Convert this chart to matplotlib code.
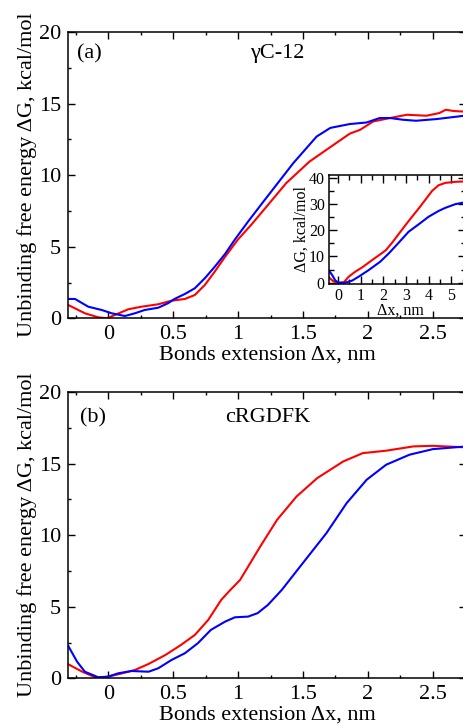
import matplotlib
matplotlib.use("Agg")
import matplotlib.pyplot as plt
from matplotlib.ticker import MultipleLocator

plt.rcParams['font.family'] = ['Liberation Serif', 'DejaVu Serif']

# ---- panel (a) gammaC-12 ----
a_red_x = [-0.308, -0.18, -0.077, -0.01, 0.05, 0.154, 0.256, 0.385, 0.487, 0.59, 0.667, 0.744, 0.82,
           0.9, 1.0, 1.1, 1.23, 1.37, 1.55, 1.68, 1.86, 1.94, 2.04, 2.17, 2.3, 2.45, 2.55, 2.6, 2.66, 2.76]
a_red_y = [0.93, 0.35, 0.07, 0.0, 0.23, 0.63, 0.81, 0.98, 1.23, 1.35, 1.63, 2.33, 3.26,
           4.3, 5.52, 6.52, 7.92, 9.44, 10.95, 11.77, 12.9, 13.17, 13.75, 13.99, 14.22, 14.15, 14.34, 14.57, 14.48, 14.43]
a_blue_x = [-0.308, -0.256, -0.154, -0.05, 0.026, 0.128, 0.205, 0.28, 0.385, 0.46, 0.51, 0.59, 0.667,
            0.744, 0.82, 0.9, 0.975, 1.077, 1.205, 1.425, 1.605, 1.71, 1.86, 1.99, 2.09, 2.17, 2.27, 2.37,
            2.53, 2.76]
a_blue_y = [1.35, 1.35, 0.81, 0.58, 0.35, 0.16, 0.35, 0.58, 0.74, 1.05, 1.35, 1.7, 2.1,
            2.8, 3.6, 4.5, 5.5, 6.76, 8.27, 10.84, 12.7, 13.3, 13.57, 13.68, 13.99, 13.99, 13.87, 13.8,
            13.92, 14.17]

# ---- inset ----
in_red_x = [-0.4, -0.19, 0.03, 0.25, 0.47, 0.76, 1.06, 1.5, 1.86, 2.11, 2.38, 2.67, 2.97, 3.26, 3.55,
            3.85, 4.14, 4.43, 4.73, 5.17, 5.46, 5.7]
in_red_y = [2.0, 0.4, 0.0, 0.1, 2.3, 4.2, 5.8, 8.6, 10.8, 12.4, 15.2, 18.5, 21.9, 25.1, 28.2,
            31.6, 34.9, 37.1, 38.0, 38.4, 38.5, 38.5]
in_blue_x = [-0.4, -0.26, -0.12, 0.03, 0.32, 0.62, 0.91, 1.35, 1.86, 2.23, 2.67, 3.11, 3.55, 3.99,
             4.43, 4.73, 5.17, 5.46, 5.7]
in_blue_y = [4.6, 2.9, 0.8, 0.0, 0.0, 0.8, 2.3, 4.8, 8.0, 11.1, 15.2, 19.4, 22.2, 25.1,
             27.3, 28.5, 29.9, 30.4, 30.6]

# ---- panel (b) cRGDFK ----
b_red_x = [-0.308, -0.2, -0.1, -0.026, 0.077, 0.205, 0.31, 0.44, 0.56, 0.667, 0.77, 0.87, 0.94, 1.015,
           1.17, 1.3, 1.45, 1.61, 1.81, 1.96, 2.14, 2.35, 2.5, 2.76]
b_red_y = [0.98, 0.46, 0.07, 0.07, 0.28, 0.58, 1.0, 1.63, 2.33, 3.03, 4.08, 5.48, 6.17, 6.87,
           9.2, 11.07, 12.7, 13.99, 15.15, 15.73, 15.9, 16.2, 16.24, 16.13]
b_blue_x = [-0.308, -0.24, -0.18, -0.077, 0.0, 0.077, 0.18, 0.31, 0.385, 0.487, 0.59, 0.69, 0.79, 0.9,
            0.975, 1.077, 1.15, 1.23, 1.336, 1.477, 1.68, 1.836, 1.99, 2.14, 2.32, 2.5, 2.76]
b_blue_y = [2.26, 1.16, 0.46, 0.07, 0.12, 0.35, 0.51, 0.46, 0.7, 1.28, 1.75, 2.45, 3.38, 3.96,
            4.26, 4.31, 4.55, 5.13, 6.17, 7.8, 10.14, 12.24, 13.87, 14.92, 15.62, 16.01, 16.2]

xticks_main = [0, 0.5, 1, 1.5, 2, 2.5]
xticklabels_main = ['0', '0.5', '1', '1.5', '2', '2.5']
yticks_main = [0, 5, 10, 15, 20]
xticks_inset = [0, 1, 2, 3, 4, 5]
yticks_inset = [0, 10, 20, 30, 40]

W, H = 464, 724
fig = plt.figure(figsize=(W / 100, H / 100), dpi=100)

def fbox(l, t, r, b):
    return [l / W, 1 - b / H, (r - l) / W, (b - t) / H]

RED = '#ff0000'
BLUE = '#0000ff'
FS = 16

def style_main(ax):
    ax.set_xlim(-0.31, 2.755)
    ax.set_ylim(0, 20)
    ax.set_xticks(xticks_main)
    ax.set_xticklabels(xticklabels_main)
    ax.set_yticks(yticks_main)
    ax.xaxis.set_minor_locator(MultipleLocator(0.25))
    ax.yaxis.set_minor_locator(MultipleLocator(2.5))
    ax.tick_params(which='both', direction='in', top=True, right=True, labelsize=FS, width=1.0)
    ax.tick_params(which='major', length=5, pad=5)
    ax.tick_params(which='minor', length=2.5)
    for s in ax.spines.values():
        s.set_linewidth(1.1)
    ax.set_xlabel('Bonds extension Δx, nm', fontsize=FS, labelpad=1)
    ax.set_ylabel('Unbinding free energy ΔG, kcal/mol', fontsize=FS, labelpad=1)

axA = fig.add_axes(fbox(68, 32, 466, 318.3))
axA.plot(a_red_x, a_red_y, color=RED, lw=1.5)
axA.plot(a_blue_x, a_blue_y, color=BLUE, lw=1.5)
style_main(axA)
axA.text(-0.146, 18.5, '(a)', fontsize=FS, ha='center', va='center')
axA.text(1.3, 18.5, 'γC-12', fontsize=FS, ha='center', va='center')

axB = fig.add_axes(fbox(68, 392, 466, 678.3))
axB.plot(b_red_x, b_red_y, color=RED, lw=1.5)
axB.plot(b_blue_x, b_blue_y, color=BLUE, lw=1.5)
style_main(axB)
axB.text(-0.12, 18.2, '(b)', fontsize=FS, ha='center', va='center')
axB.text(1.23, 18.2, 'cRGDFK', fontsize=FS, ha='center', va='center')

# inset
IL, IT, IR, IB = 329, 175, 466, 284
axI = fig.add_axes(fbox(IL, IT, IR, IB))
axI.plot(in_red_x, in_red_y, color=RED, lw=1.5)
axI.plot(in_blue_x, in_blue_y, color=BLUE, lw=1.5)
axI.set_xlim(-0.4, 5.64)
axI.set_ylim(-0.5, 41)
axI.set_xticks(xticks_inset)
axI.set_yticks(yticks_inset)
axI.xaxis.set_minor_locator(MultipleLocator(0.5))
axI.yaxis.set_minor_locator(MultipleLocator(5))
axI.tick_params(which='both', direction='in', top=True, right=True, labelsize=11.5, width=1.0, pad=3)
axI.tick_params(which='major', length=6)
axI.tick_params(which='minor', length=3.5)
for s in axI.spines.values():
    s.set_linewidth(1.1)
axI.set_xlabel('Δx, nm', fontsize=11.5)
axI.set_ylabel('ΔG, kcal/mol', fontsize=11.5)
axI.xaxis.set_label_coords((400 - IL) / (IR - IL), -(311 - IB) / (IB - IT))
axI.xaxis.label.set_va('center')
axI.yaxis.set_label_coords(-(IL - 301.5) / (IR - IL), 0.5)
axI.yaxis.label.set_va('center')

fig.savefig('out.png', dpi=100)
